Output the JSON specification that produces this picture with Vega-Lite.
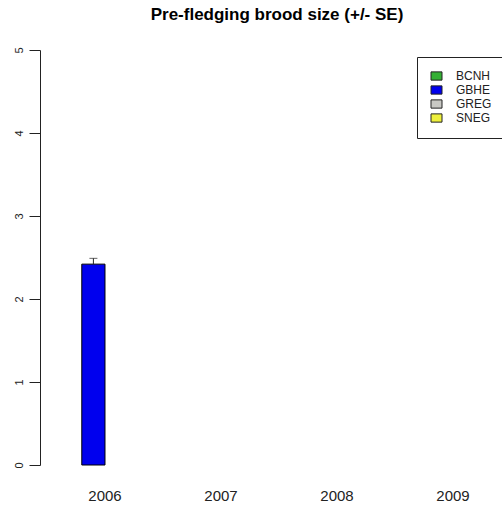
{
  "$schema": "https://vega.github.io/schema/vega-lite/v6.json",
  "autosize": {"type": "none"},
  "width": 462,
  "height": 415,
  "padding": {"left": 40, "top": 50, "right": 0, "bottom": 41},
  "background": "white",
  "title": {
    "text": "Pre-fledging brood size (+/- SE)",
    "font": "Liberation Sans",
    "fontSize": 17,
    "fontWeight": "bold",
    "color": "black",
    "anchor": "middle",
    "frame": "group",
    "baseline": "alphabetic",
    "offset": 10,
    "dx": 6
  },
  "data": {
    "values": [
      {"year": "2006", "species": "BCNH", "mean": null, "upper": null},
      {"year": "2006", "species": "GBHE", "mean": 2.42, "upper": 2.49},
      {"year": "2006", "species": "GREG", "mean": null, "upper": null},
      {"year": "2006", "species": "SNEG", "mean": null, "upper": null},
      {"year": "2007", "species": "BCNH", "mean": null, "upper": null},
      {"year": "2007", "species": "GBHE", "mean": null, "upper": null},
      {"year": "2007", "species": "GREG", "mean": null, "upper": null},
      {"year": "2007", "species": "SNEG", "mean": null, "upper": null},
      {"year": "2008", "species": "BCNH", "mean": null, "upper": null},
      {"year": "2008", "species": "GBHE", "mean": null, "upper": null},
      {"year": "2008", "species": "GREG", "mean": null, "upper": null},
      {"year": "2008", "species": "SNEG", "mean": null, "upper": null},
      {"year": "2009", "species": "BCNH", "mean": null, "upper": null},
      {"year": "2009", "species": "GBHE", "mean": null, "upper": null},
      {"year": "2009", "species": "GREG", "mean": null, "upper": null},
      {"year": "2009", "species": "SNEG", "mean": null, "upper": null}
    ]
  },
  "encoding": {
    "x": {
      "field": "year",
      "type": "nominal",
      "scale": {
        "domain": ["2006", "2007", "2008", "2009"],
        "paddingInner": 0.2,
        "paddingOuter": 0.0914,
        "align": 0.877
      },
      "axis": {
        "title": null,
        "domain": false,
        "ticks": false,
        "labelAngle": 0,
        "labelFont": "Liberation Sans",
        "labelFontSize": 15,
        "labelColor": "#222",
        "labelPadding": 23
      }
    },
    "xOffset": {
      "field": "species",
      "type": "nominal",
      "scale": {
        "domain": ["BCNH", "GBHE", "GREG", "SNEG"],
        "paddingInner": 0,
        "paddingOuter": 0
      }
    }
  },
  "layer": [
    {
      "mark": {"type": "bar", "stroke": "black", "strokeWidth": 1},
      "encoding": {
        "y": {
          "field": "mean",
          "type": "quantitative",
          "scale": {"domain": [0, 5], "nice": false, "zero": true},
          "axis": {
            "title": null,
            "values": [0, 1, 2, 3, 4, 5],
            "format": "d",
            "grid": false,
            "labelAngle": -90,
            "labelAlign": "center",
            "labelBaseline": "bottom",
            "labelFont": "Liberation Sans",
            "labelFontSize": 11,
            "labelColor": "#222",
            "labelPadding": 5,
            "tickSize": 11,
            "tickColor": "#222",
            "domainColor": "#222"
          }
        },
        "fill": {
          "field": "species",
          "type": "nominal",
          "scale": {
            "domain": ["BCNH", "GBHE", "GREG", "SNEG"],
            "range": ["#34b034", "#0000ee", "#c8c8c4", "#eef03c"]
          },
          "legend": {
            "orient": "none",
            "legendX": 377,
            "legendY": 7,
            "title": null,
            "strokeColor": "#222",
            "fillColor": "white",
            "padding": 13,
            "symbolType": "M-1,-0.75H1V0.75H-1Z",
            "symbolSize": 121,
            "symbolStrokeColor": "#222",
            "symbolStrokeWidth": 1,
            "symbolOffset": 0.5,
            "labelFont": "Liberation Sans",
            "labelFontSize": 12,
            "labelColor": "#222",
            "labelOffset": 13.5,
            "rowPadding": 0
          }
        }
      }
    },
    {
      "mark": {"type": "rule", "color": "#222", "strokeWidth": 1},
      "encoding": {
        "y": {"field": "mean", "type": "quantitative"},
        "y2": {"field": "upper"}
      }
    },
    {
      "mark": {"type": "tick", "color": "#222", "thickness": 1, "size": 8, "orient": "horizontal"},
      "encoding": {
        "y": {"field": "upper", "type": "quantitative"}
      }
    }
  ],
  "config": {
    "view": {"stroke": null}
  }
}
